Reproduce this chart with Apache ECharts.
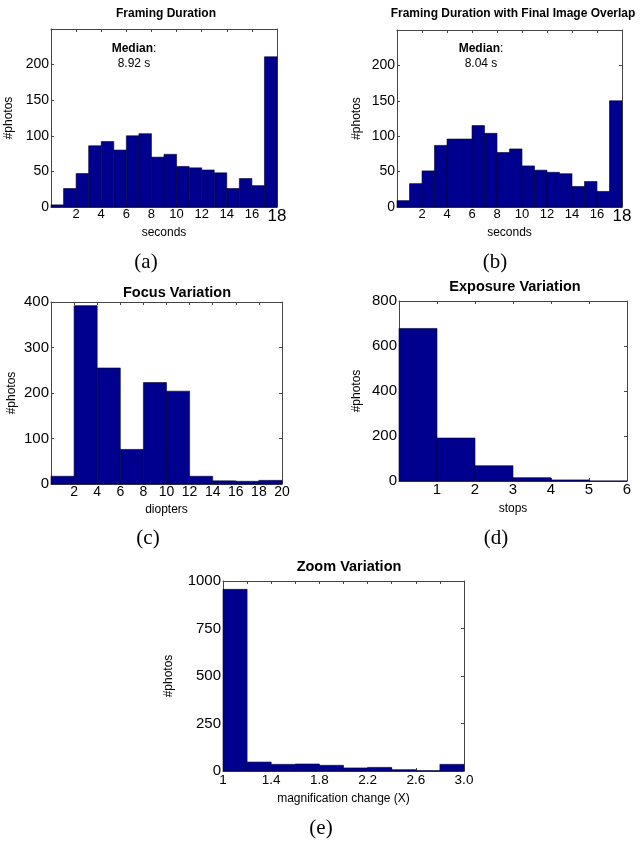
<!DOCTYPE html>
<html>
<head>
<meta charset="utf-8">
<script src="https://cdn.jsdelivr.net/npm/echarts@6/dist/echarts.min.js"></script>
<style>
  html, body { margin: 0; padding: 0; background: #fff; }
  #main { width: 643px; height: 842px; }
</style>
</head>
<body>
<div id="main"></div>
<script>
// histogram bin edges and counts
var framingEdges = [0, 1, 2, 3, 4, 5, 6, 7, 8, 9, 10, 11, 12, 13, 14, 15, 16, 17, 18];
var framingCounts = [3, 26, 47, 86, 92, 80, 100, 103, 70, 74, 57, 55, 52, 48, 26, 40, 30, 211];
var overlapCounts = [9, 33, 51, 87, 96, 96, 115, 104, 77, 82, 58, 52, 49, 47, 29, 36, 22, 150];

var focusEdges = [0, 2, 4, 6, 8, 10, 12, 14, 16, 18, 20];
var focusCounts = [17, 392, 255, 76, 223, 204, 17, 7, 6, 8];

var exposureEdges = [0, 1, 2, 3, 4, 5, 6];
var exposureCounts = [678, 191, 68, 15, 5, 0];

var zoomEdges = [1, 1.2, 1.4, 1.6, 1.8, 2.0, 2.2, 2.4, 2.6, 2.8, 3.0];
var zoomCounts = [956, 47, 35, 37, 30, 16, 19, 7, 2, 35];

var titles = ['Framing Duration', 'Framing Duration with Final Image Overlap',
  'Focus Variation', 'Exposure Variation', 'Zoom Variation'];
var xNames = ['seconds', 'seconds', 'diopters', 'stops', 'magnification change (X)'];
var panelLabels = ['(a)', '(b)', '(c)', '(d)', '(e)'];
var medians = ['8.92 s', '8.04 s'];

var barColor = '#00008f';
var frameColor = '#444';

function toBins(edges, counts) {
  var res = [];
  for (var i = 0; i < counts.length; i++) {
    res.push([edges[i], edges[i + 1], counts[i]]);
  }
  return res;
}

// layout for each panel
var panels = [
  { grid: { left: 51, top: 29, width: 226, height: 178 }, data: toBins(framingEdges, framingCounts),
    x: { min: 0, max: 18, interval: 2 }, y: { min: 0, max: 250, interval: 50 },
    yFont: 14, xFont: 13, yGap: 36, xGap: 20, title: [166, 14, 12], label: [146, 262] },
  { grid: { left: 397, top: 30, width: 225, height: 177 }, data: toBins(framingEdges, overlapCounts),
    x: { min: 0, max: 18, interval: 2 }, y: { min: 0, max: 250, interval: 50 },
    yFont: 14, xFont: 13, yGap: 34, xGap: 20, title: [513, 14, 12], label: [495, 262] },
  { grid: { left: 51, top: 302, width: 231, height: 182 }, data: toBins(focusEdges, focusCounts),
    x: { min: 0, max: 20, interval: 2 }, y: { min: 0, max: 400, interval: 100 },
    yFont: 15, xFont: 14, yGap: 33, xGap: 20, title: [177, 293, 14.5], label: [148, 538] },
  { grid: { left: 399, top: 301, width: 228, height: 180 }, data: toBins(exposureEdges, exposureCounts),
    x: { min: 0, max: 6, interval: 1 }, y: { min: 0, max: 800, interval: 200 },
    yFont: 15, xFont: 15, yGap: 36, xGap: 22, title: [515, 287, 14.5], label: [496, 538] },
  { grid: { left: 223, top: 581, width: 241, height: 190 }, data: toBins(zoomEdges, zoomCounts),
    x: { min: 1, max: 3, interval: 0.2 }, y: { min: 0, max: 1000, interval: 250 },
    yFont: 15, xFont: 13.5, yGap: 48, xGap: 22, title: [349, 567, 14.5], label: [321, 828] }
];

var grids = [], xAxes = [], yAxes = [], series = [], graphics = [];

panels.forEach(function(p, i) {
  grids.push(p.grid);
  var xLabel;
  if (i === 4) {
    xLabel = {
      fontSize: p.xFont, color: '#000', margin: 2, fontFamily: 'Liberation Sans',
      formatter: function(v) {
        var k = Math.round((v - 1) / 0.2);
        if (k % 2 !== 0) return '';
        return v === 1 ? '1' : v.toFixed(1);
      }
    };
  } else {
    xLabel = {
      fontSize: p.xFont, color: '#000', margin: 1, fontFamily: 'Liberation Sans', showMinLabel: false,
      formatter: function(v) {
        if (i < 2 && v === 18) return '{big|18}';
        return String(v);
      },
      rich: { big: { fontSize: 17, fontFamily: 'Liberation Sans', color: '#000' } }
    };
  }
  // bottom and top x axes
  xAxes.push({
    type: 'value', gridIndex: i, min: p.x.min, max: p.x.max, interval: p.x.interval,
    name: xNames[i], nameLocation: 'middle', nameGap: p.xGap,
    nameTextStyle: { fontSize: 12, color: '#000', fontFamily: 'Liberation Sans' },
    axisLine: { onZero: false, lineStyle: { color: frameColor } },
    axisTick: { inside: true, length: 3, lineStyle: { color: frameColor } },
    axisLabel: xLabel, splitLine: { show: false }
  });
  xAxes.push({
    type: 'value', gridIndex: i, position: 'top', min: p.x.min, max: p.x.max, interval: p.x.interval,
    axisLine: { onZero: false, lineStyle: { color: frameColor } },
    axisTick: { inside: true, length: 3, lineStyle: { color: frameColor } },
    axisLabel: { show: false }, splitLine: { show: false }
  });
  // left and right y axes
  yAxes.push({
    type: 'value', gridIndex: i, min: p.y.min, max: p.y.max, interval: p.y.interval,
    name: '#photos', nameLocation: 'middle', nameGap: p.yGap,
    nameTextStyle: { fontSize: 12, color: '#000', fontFamily: 'Liberation Sans' },
    axisLine: { show: true, onZero: false, lineStyle: { color: frameColor } },
    axisTick: { show: true, inside: true, length: 3, lineStyle: { color: frameColor } },
    axisLabel: { fontSize: p.yFont, color: '#000', margin: 2, fontFamily: 'Liberation Sans',
      showMaxLabel: i >= 2, formatter: function(v) { return String(v); } },
    splitLine: { show: false }
  });
  yAxes.push({
    type: 'value', gridIndex: i, position: 'right', min: p.y.min, max: p.y.max, interval: p.y.interval,
    axisLine: { show: true, onZero: false, lineStyle: { color: frameColor } },
    axisTick: { show: true, inside: true, length: 3, lineStyle: { color: frameColor } },
    axisLabel: { show: false }, splitLine: { show: false }
  });

  series.push({
    type: 'custom',
    xAxisIndex: 2 * i,
    yAxisIndex: 2 * i,
    encode: { x: [0, 1], y: 2 },
    data: p.data,
    z: 1,
    renderItem: function(params, api) {
      var p0 = api.coord([api.value(0), 0]);
      var p1 = api.coord([api.value(1), api.value(2)]);
      return {
        type: 'rect',
        shape: { x: p0[0], y: p1[1], width: p1[0] - p0[0], height: p0[1] - p1[1] },
        style: { fill: barColor, stroke: '#000033', lineWidth: 0.6 }
      };
    }
  });

  graphics.push({
    type: 'text', x: p.title[0], y: p.title[1],
    style: { text: titles[i], fontSize: p.title[2], fontWeight: 'bold', fill: '#000',
      fontFamily: 'Liberation Sans', textAlign: 'center', textVerticalAlign: 'middle' }
  });
  graphics.push({
    type: 'text', x: p.label[0], y: p.label[1],
    style: { text: panelLabels[i], fontSize: 21, fill: '#000',
      fontFamily: 'Liberation Serif', textAlign: 'center', textVerticalAlign: 'middle' }
  });
});

// median annotations in (a) and (b)
[[134, 49, 64], [481, 49, 64]].forEach(function(pos, i) {
  graphics.push({
    type: 'text', x: pos[0], y: pos[1],
    style: { text: '{b|Median}:', fontSize: 12, fill: '#000', fontFamily: 'Liberation Sans',
      textAlign: 'center', textVerticalAlign: 'middle',
      rich: { b: { fontWeight: 'bold', fontSize: 12, fontFamily: 'Liberation Sans' } } }
  });
  graphics.push({
    type: 'text', x: pos[0], y: pos[2],
    style: { text: medians[i], fontSize: 12, fill: '#000', fontFamily: 'Liberation Sans',
      textAlign: 'center', textVerticalAlign: 'middle' }
  });
});

var chart = echarts.init(document.getElementById('main'));
chart.setOption({
  animation: false,
  backgroundColor: '#fff',
  grid: grids,
  xAxis: xAxes,
  yAxis: yAxes,
  series: series,
  graphic: graphics
});
</script>
</body>
</html>
